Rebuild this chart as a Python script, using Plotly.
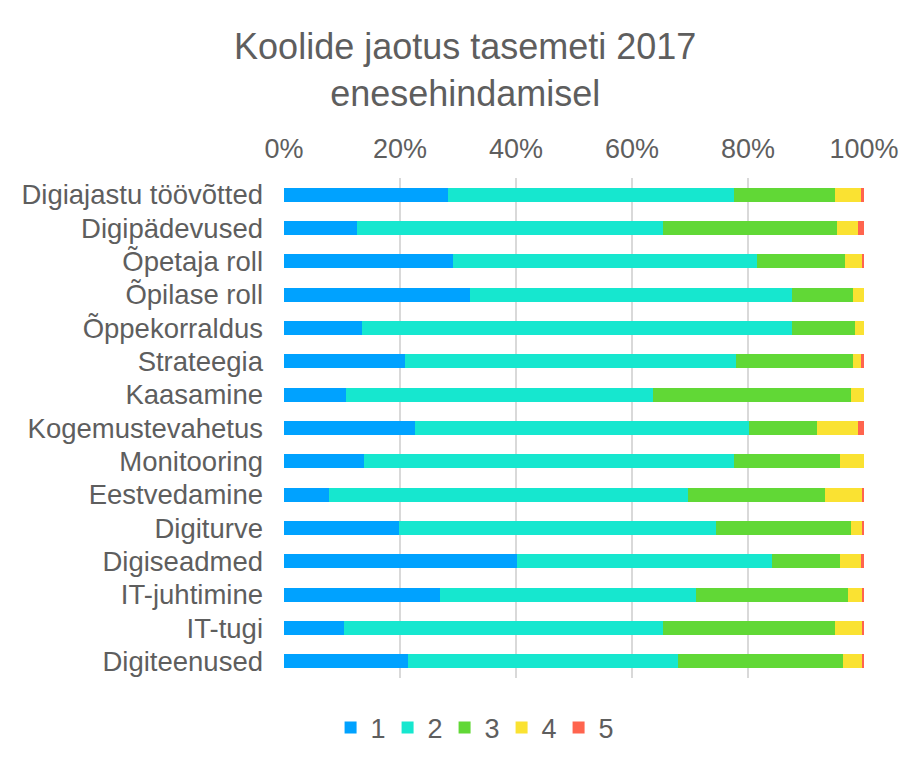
import plotly.graph_objects as go

categories = [
    "Digiajastu töövõtted", "Digipädevused", "Õpetaja roll", "Õpilase roll",
    "Õppekorraldus", "Strateegia", "Kaasamine", "Kogemustevahetus",
    "Monitooring", "Eestvedamine", "Digiturve", "Digiseadmed",
    "IT-juhtimine", "IT-tugi", "Digiteenused",
]

level_1 = [28.2, 12.5, 29.1, 32.1, 13.4, 20.8, 10.7, 22.6, 13.8, 7.7, 19.9, 40.1, 26.9, 10.3, 21.3]
level_2 = [49.4, 52.8, 52.4, 55.5, 74.2, 57.2, 52.9, 57.6, 63.7, 61.9, 54.6, 44.0, 44.1, 55.0, 46.6]
level_3 = [17.4, 30.1, 15.3, 10.5, 10.9, 20.1, 34.1, 11.7, 18.4, 23.7, 23.2, 11.8, 26.2, 29.7, 28.5]
level_4 = [4.4, 3.6, 2.9, 1.9, 1.5, 1.3, 2.3, 7.0, 4.1, 6.5, 2.0, 3.5, 2.6, 4.8, 3.4]
level_5 = [0.6, 1.0, 0.3, 0.0, 0.0, 0.6, 0.0, 1.1, 0.0, 0.2, 0.3, 0.6, 0.2, 0.2, 0.2]

tick_vals = [0, 20, 40, 60, 80, 100]
tick_text = ["0%", "20%", "40%", "60%", "80%", "100%"]

series = [
    ("1", level_1, "#00A2FF"),
    ("2", level_2, "#16E7CF"),
    ("3", level_3, "#61D836"),
    ("4", level_4, "#FAE232"),
    ("5", level_5, "#FF644E"),
]

FONT = "Liberation Sans, Arial, sans-serif"
TEXT = "#5e5e5e"

fig = go.Figure()
for name, vals, color in series:
    fig.add_trace(go.Bar(
        y=categories, x=vals, name=name, orientation="h",
        marker=dict(color=color, line=dict(width=0)),
    ))

fig.update_layout(
    barmode="stack",
    bargap=0.58,
    width=920, height=761,
    title=dict(
        text="Koolide jaotus tasemeti 2017<br>enesehindamisel",
        x=0.497, xanchor="center", y=0.933, yanchor="top",
        font=dict(family=FONT, size=36, color=TEXT),
    ),
    xaxis=dict(
        side="top", range=[0, 100], tickvals=tick_vals, ticktext=tick_text,
        showgrid=True, gridcolor="#d9d9d9", gridwidth=2,
        zeroline=False, tickfont=dict(family=FONT, size=27, color=TEXT),
        ticks="", tickangle=0, ticklabelstandoff=14, fixedrange=True,
    ),
    yaxis=dict(
        autorange="reversed", showgrid=False,
        tickfont=dict(family=FONT, size=27.5, color=TEXT), ticks="",
        ticklabelstandoff=20,
    ),
    legend=dict(
        orientation="h", x=0.326, xanchor="center",
        y=-0.1, yanchor="middle",
        font=dict(family=FONT, size=27, color=TEXT),
        itemwidth=30, entrywidth=12, entrywidthmode="pixels",
        traceorder="normal",
    ),
    plot_bgcolor="white", paper_bgcolor="white",
    margin=dict(l=276, r=64, t=170, b=91),
)

fig.write_html("out.html")
